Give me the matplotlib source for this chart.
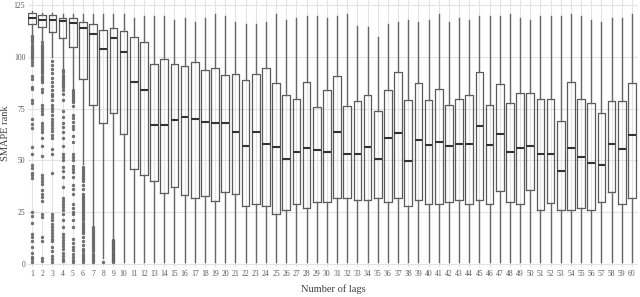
import matplotlib
matplotlib.use("Agg")
from matplotlib import pyplot as plt

plt.rcParams["font.family"] = ["Liberation Serif", "DejaVu Serif"]

lags = list(range(1, 61))

q3 = [121.0, 120.2, 120.2, 119.0, 119.0, 117.0, 115.9, 113.0, 113.8, 112.7,
      109.4, 107.3, 96.8, 98.8, 96.8, 95.7, 97.6, 93.9, 94.7, 91.5,
      91.8, 88.8, 91.8, 94.7, 87.6, 81.5, 79.6, 88.0, 75.9, 83.9,
      90.7, 76.5, 78.6, 81.8, 73.9, 83.9, 92.6, 79.0, 87.6, 79.0,
      84.7, 77.0, 79.7, 81.5, 92.6, 77.0, 86.8, 77.8, 82.8, 82.8,
      79.6, 79.7, 68.9, 88.0, 79.7, 77.5, 72.8, 78.9, 78.9, 87.6]

med = [118.9, 117.8, 117.8, 117.5, 116.2, 113.8, 110.9, 103.8, 109.0, 102.5,
       88.0, 83.9, 67.0, 67.0, 69.4, 71.0, 70.0, 68.4, 67.9, 67.9,
       63.9, 57.0, 63.9, 57.9, 56.5, 50.8, 53.9, 56.0, 54.9, 53.9,
       63.9, 52.9, 52.9, 56.5, 50.8, 61.0, 63.4, 49.9, 60.0, 57.5,
       58.9, 57.0, 57.9, 57.9, 66.5, 57.5, 62.9, 53.9, 56.0, 57.0,
       52.9, 52.9, 44.9, 56.0, 51.5, 48.9, 47.9, 57.9, 55.5, 62.5]

q1 = [115.9, 114.6, 111.8, 109.0, 105.0, 89.1, 77.0, 68.1, 73.1, 63.0,
      46.0, 43.0, 39.9, 34.2, 37.1, 33.1, 32.0, 32.9, 30.2, 34.7,
      33.9, 27.8, 29.0, 28.0, 23.9, 25.8, 29.0, 27.0, 29.9, 29.9,
      32.0, 32.0, 30.7, 30.7, 32.0, 29.9, 32.0, 27.8, 30.7, 29.0,
      29.0, 29.9, 30.7, 29.0, 31.1, 29.0, 35.2, 29.9, 29.0, 35.8,
      25.8, 29.4, 26.1, 26.1, 27.0, 25.8, 29.9, 34.7, 29.0, 32.0]

whis_hi = [122.0, 121.0, 121.0, 120.5, 120.5, 120.7, 120.7, 120.7, 120.7, 120.7,
           118.6, 119.8, 119.8, 119.8, 117.8, 118.6, 116.7, 118.6, 120.6, 119.8,
           116.7, 115.7, 115.7, 116.7, 120.7, 117.8, 118.6, 119.8, 119.8, 118.6,
           119.8, 120.7, 114.9, 114.6, 109.7, 115.7, 116.7, 117.8, 116.7, 117.8,
           120.7, 116.7, 118.6, 117.8, 119.8, 119.8, 119.8, 120.7, 118.6, 117.8,
           119.8, 119.8, 119.8, 120.7, 119.8, 117.8, 116.7, 118.6, 118.6, 120.7]

whis_lo = [110.0, 108.0, 100.0, 94.5, 85.0, 48.5, 19.0, 3.0, 12.0] + [1.0] * 51

outliers = {
    1: [110, 109, 108, 107, 106, 105, 104, 103, 102, 101, 100, 99, 97.5, 96,
        91, 89.5, 85.5, 84.5, 79, 77.5, 70, 67.5, 65.5, 56.5, 53, 48, 46.5,
        44, 43, 41.5, 25, 23, 20, 14.5, 13, 11, 8, 5.5, 3.5, 2.5, 1],
    2: [107, 106, 105, 104, 103, 102, 101, 100, 99, 98, 97, 96, 95, 94, 93,
        92, 91, 90, 89, 88, 84.5, 83, 77, 75.5, 74, 72.5, 68, 66.5, 65, 63.5,
        61, 57, 52, 43, 41.5, 40, 38.5, 35.5, 34, 32.5, 30.5, 24, 22.5, 13,
        11, 3, 1.5],
    3: [98, 96, 94, 92, 90, 88, 86, 84, 82, 81, 79, 77, 75.5, 74, 72, 70,
        68.5, 67, 65.5, 64, 62.5, 61, 55.5, 53, 44, 24, 22.5, 21, 19.5, 18,
        16.5, 15, 13.5, 12, 11, 8, 6, 4, 2.5, 1],
    4: [93.5, 92.5, 91.5, 90.5, 89.5, 88.5, 87.5, 86.5, 85.5, 84, 82, 79, 74,
        71, 68, 66, 63.5, 61, 57, 53, 51.5, 50, 47, 45, 42, 37, 32, 30.5, 29,
        27.5, 26, 24, 21, 18, 14.5, 13, 11.5, 10, 8.5, 7, 5.5, 4, 2.5, 1.5],
    5: [84, 83, 82, 81, 80, 79, 78, 76.5, 72, 70.5, 68.5, 66.5, 65, 62, 59,
        53, 51.5, 50, 47.5, 46, 44.5, 42, 38, 36, 34, 29, 27, 25, 24, 21, 18,
        12, 10, 8, 6.5, 5, 3.5, 2, 1],
    6: [47, 46, 45, 44, 43, 42, 41, 40, 38, 36, 34, 33, 32, 31, 30, 29, 28,
        27, 26, 25, 24, 23, 22, 21, 20, 19, 18, 17, 16, 15, 13, 11, 9, 7, 6,
        5, 4, 3, 2, 1],
    7: [18, 17, 16, 15, 14, 13, 12, 11, 10, 9, 8, 7, 6, 5, 4, 3, 2, 1],
    8: [1],
    9: [11.5, 11, 10.5, 10, 9.5, 9, 8.5, 8, 7.5, 7, 6.5, 6, 5.5, 5, 4.5, 4,
        3.5, 3, 2.5, 2, 1.5, 1],
}

stats = []
for i, lag in enumerate(lags):
    stats.append({
        "med": med[i], "q1": q1[i], "q3": q3[i],
        "whislo": whis_lo[i], "whishi": whis_hi[i],
        "fliers": outliers.get(lag, []),
    })

fig = plt.figure(figsize=(6.4, 2.97), dpi=100)
ax = fig.add_axes([28 / 640, 30 / 297, 610 / 640, 267 / 297])

line_col = "#5a5a5a"
ax.bxp(stats, positions=lags, widths=0.75, patch_artist=False,
       boxprops=dict(color=line_col, linewidth=0.9),
       whiskerprops=dict(color="#666666", linewidth=1.0),
       capprops=dict(linewidth=0),
       medianprops=dict(color="#333333", linewidth=1.5),
       flierprops=dict(marker="o", markersize=2.0, markerfacecolor="#707070",
                       markeredgecolor="#606060", markeredgewidth=0.4,
                       linestyle="none"))

ax.set_xlim(0.6, 60.6)
ax.set_ylim(-1.5, 127.5)
ax.set_yticks([0, 25, 50, 75, 100, 125])
ax.set_xticks(lags)
ax.set_xticklabels([str(l) for l in lags])
ax.grid(True, color="#e3e3e3", linewidth=0.8)
ax.set_axisbelow(True)
for s in ax.spines.values():
    s.set_visible(False)
ax.tick_params(length=0, labelsize=5.5, colors="#595959", pad=2)

ax.set_xlabel("Number of lags", fontsize=7.5, color="#404040", labelpad=5)
ax.set_ylabel("SMAPE rank", fontsize=7.5, color="#404040", labelpad=3)

fig.savefig("out.png", dpi=100)
